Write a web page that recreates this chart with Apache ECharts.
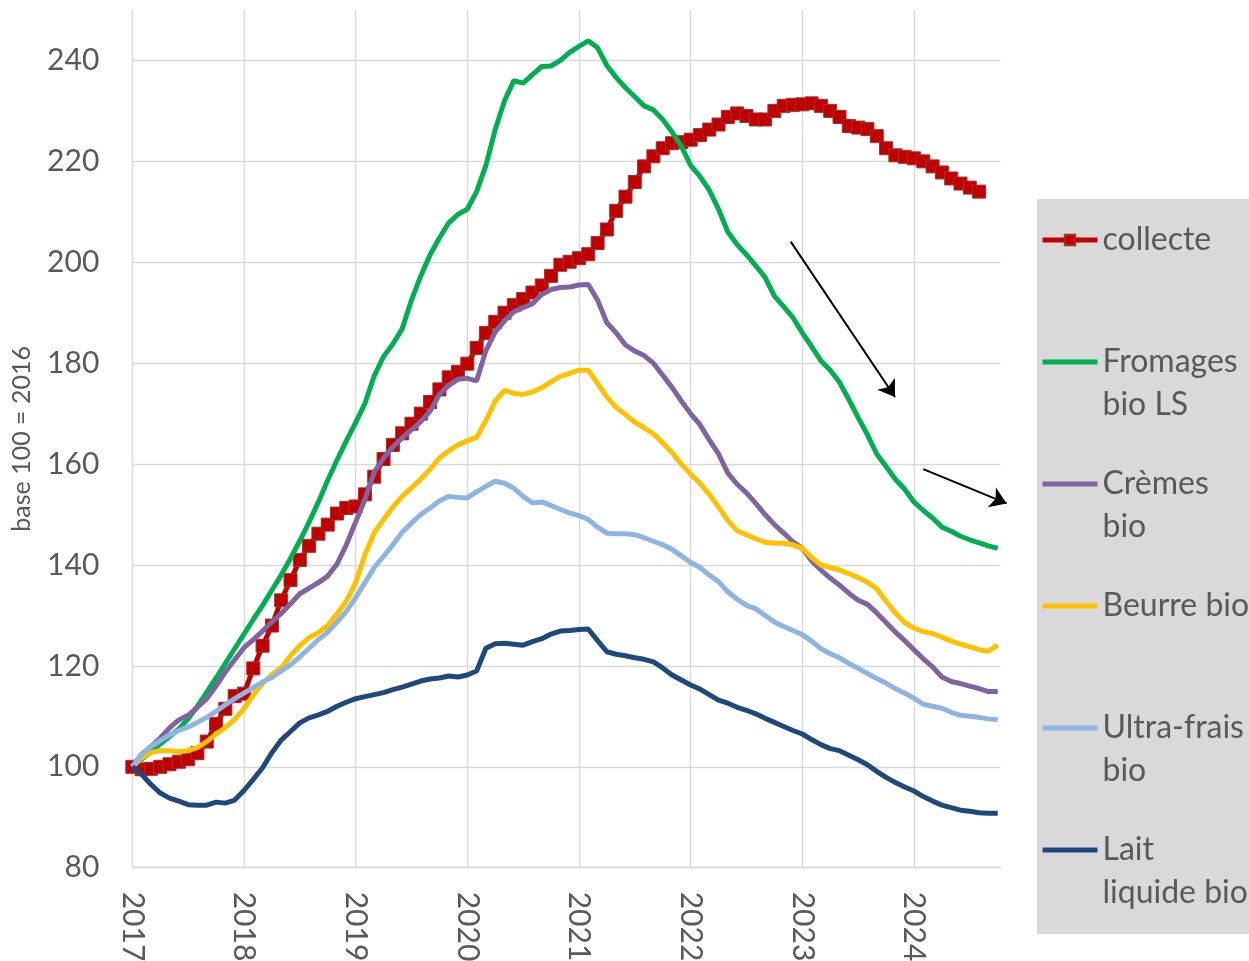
<!DOCTYPE html>
<html><head><meta charset="utf-8">
<script src="https://cdn.jsdelivr.net/npm/echarts@6/dist/echarts.min.js"></script>
<style>html,body{margin:0;padding:0;background:#fff}#c{width:1249px;height:961px}</style>
</head><body><div id="c"></div>
<script>
// monthly values, first point = January 2017
const startYear = 2017;
const yearTicks = [2017, 2018, 2019, 2020, 2021, 2022, 2023, 2024];
const yTicks = [80, 100, 120, 140, 160, 180, 200, 220, 240];

const collecte = [100, 99.5, 99.6, 100.0, 100.5, 101, 101.5, 102.7, 105, 108.5,
  111.5, 114, 114.5, 119.5, 124, 128, 133, 137, 141, 143.8,
  146.2, 148, 150.2, 151.3, 151.6, 154, 157.5, 161, 163.8, 166.1,
  168, 170, 172.3, 174.8, 177.2, 178.3, 179.9, 183, 186, 188.2,
  190, 191.5, 192.7, 194, 195.4, 197.3, 199.5, 200.1, 200.8, 201.6,
  203.8, 206.5, 210.2, 213, 215.9, 219, 221, 222.6, 223.6, 223.8,
  224.3, 225.2, 226.3, 227.3, 228.8, 229.5, 229, 228.3, 228.3, 230,
  231, 231.2, 231.3, 231.5, 231, 230, 228.8, 227, 226.7, 226.4,
  225, 222.6, 221.2, 220.9, 220.6, 220, 219, 217.8, 216.6, 215.6,
  214.8, 214];

const fromages = [100, 101.5, 103, 104.5, 106, 107.5, 109.5, 112, 114.8, 117.6,
  120.5, 123.4, 126.3, 129.2, 132, 135, 138, 141.3, 144.8, 148.5,
  152.5, 156.8, 160.8, 164.6, 168.2, 172, 177.5, 181.3, 183.8, 186.8,
  192.5, 197.3, 201.5, 204.8, 207.8, 209.5, 210.5, 214, 219.2, 226.3,
  232, 236, 235.5, 237.2, 238.8, 238.9, 240, 241.6, 242.8, 243.9,
  242.5, 239, 236.6, 234.6, 232.8, 231, 230.2, 228.3, 225.8, 223,
  219.2, 217, 214.3, 210.5, 206, 203.5, 201.5, 199.3, 197, 193.3,
  191.2, 189, 186, 183.3, 180.5, 178.6, 176.2, 172.8, 169.2, 165.8,
  162, 159.5, 157, 155, 152.5, 150.8, 149.3, 147.5, 146.7, 145.7,
  145, 144.4, 143.8, 143.3];

const cremes = [100, 102.5, 104, 105.7, 107.7, 109.3, 110.2, 111.8, 113.5, 116,
  118.8, 121.2, 123.6, 125.2, 126.9, 128.7, 130.4, 132.3, 134.3, 135.4,
  136.5, 137.8, 140.2, 144, 148.5, 153, 158.4, 161.2, 163.4, 165.2,
  166.8, 168.4, 170.5, 173.8, 175.6, 176.8, 177, 176.5, 182.5, 186.2,
  188.4, 190.2, 191, 191.8, 193.6, 194.6, 195, 195.1, 195.5, 195.6,
  192.5, 188, 186, 183.6, 182.4, 181.5, 180, 177.6, 175.2, 172.5,
  170, 167.8, 164.8, 162, 158.2, 156, 154.3, 152.2, 150, 148,
  146.3, 144.6, 143.3, 140.8, 139, 137.4, 136, 134.4, 133, 132.2,
  130.5, 128.6, 126.7, 125, 123.2, 121.4, 119.8, 117.8, 116.9, 116.5,
  116, 115.5, 114.9, 114.9];

const beurre = [100, 101.8, 102.8, 103.2, 103.2, 103, 103.2, 103.8, 105, 106.5,
  107.8, 109.4, 111.5, 114.2, 116.5, 118.3, 119.6, 122, 124, 125.6,
  126.6, 128, 130.3, 132.8, 136.5, 142, 146.4, 149, 151.5, 153.6,
  155.3, 157, 159, 161.2, 162.6, 163.8, 164.6, 165.3, 168.6, 172.5,
  174.6, 174, 173.8, 174.3, 175.1, 176.3, 177.4, 178, 178.6, 178.6,
  176, 173.3, 171.2, 169.8, 168.3, 167.2, 166, 164.2, 162.3, 160,
  158, 156.2, 154, 151.5, 148.8, 146.8, 146, 145.2, 144.5, 144.3,
  144.3, 144, 143.3, 141.5, 140, 139.5, 139, 138.3, 137.5, 136.6,
  135.3, 132.8, 130.5, 128.6, 127.5, 126.8, 126.4, 125.7, 124.9, 124.3,
  123.8, 123.2, 122.9, 124.1];

const ultraFrais = [100, 102.5, 104, 105.2, 106.3, 107.2, 107.9, 108.8, 109.8, 111,
  112.3, 113.5, 114.6, 115.7, 116.8, 117.7, 119, 120.2, 121.8, 123.5,
  125.2, 126.7, 128.7, 130.8, 133.5, 136.5, 139.5, 141.7, 144, 146.5,
  148.3, 150, 151.3, 152.7, 153.6, 153.4, 153.3, 154.5, 155.6, 156.6,
  156.2, 155.2, 153.6, 152.3, 152.5, 151.8, 151, 150.3, 149.8, 149,
  147.5, 146.3, 146.2, 146.2, 146, 145.4, 144.7, 144, 143.1, 141.8,
  140.5, 139.5, 138, 136.7, 134.7, 133.2, 132, 131.3, 130, 128.7,
  127.8, 127, 126.2, 124.9, 123.4, 122.4, 121.6, 120.5, 119.5, 118.5,
  117.5, 116.6, 115.5, 114.6, 113.6, 112.4, 112, 111.6, 110.8, 110.2,
  110, 109.8, 109.5, 109.3];

const laitLiquide = [100, 98.5, 96.5, 94.8, 93.8, 93.2, 92.5, 92.4, 92.4, 93,
  92.8, 93.4, 95.3, 97.5, 99.8, 102.8, 105.3, 107, 108.7, 109.7,
  110.3, 111, 112, 112.8, 113.5, 113.9, 114.3, 114.7, 115.3, 115.8,
  116.4, 117, 117.4, 117.6, 118, 117.8, 118.2, 119, 123.5, 124.4,
  124.5, 124.3, 124.1, 124.8, 125.4, 126.3, 126.9, 127, 127.2, 127.3,
  125, 122.8, 122.3, 122, 121.6, 121.3, 120.8, 119.6, 118.2, 117.2,
  116.2, 115.4, 114.3, 113.2, 112.6, 111.8, 111.2, 110.5, 109.6, 108.8,
  108, 107.2, 106.5, 105.4, 104.4, 103.6, 103.2, 102.3, 101.4, 100.4,
  99.1, 97.9, 96.9, 96, 95.2, 94.1, 93.2, 92.4, 91.9, 91.4,
  91.2, 90.9, 90.8, 90.8];

const seriesNames = ['collecte', 'Fromages bio LS', 'Crèmes bio', 'Beurre bio', 'Ultra-frais bio', 'Lait liquide bio'];
const legendLines = {
  'collecte': ['collecte'],
  'Fromages bio LS': ['Fromages', 'bio LS'],
  'Crèmes bio': ['Crèmes', 'bio'],
  'Beurre bio': ['Beurre bio'],
  'Ultra-frais bio': ['Ultra-frais', 'bio'],
  'Lait liquide bio': ['Lait', 'liquide bio']
};
const colors = ['#C00000', '#00B050', '#8064A2', '#FFC000', '#8EB4E3', '#1F497D'];
const allValues = [collecte, fromages, cremes, beurre, ultraFrais, laitLiquide];

// annotation arrows (year, index value)
const arrows = [
  [[2022.896, 204.1], [2023.83, 173.3]],
  [[2024.083, 159.0], [2024.83, 152.2]]
];

const FONT = 'Lato, "Open Sans", sans-serif';
const TXT = '#595959';
const GRID = '#D9D9D9';

function toPairs(arr) { return arr.map((v, i) => [startYear + i / 12, v]); }

const series = seriesNames.map((name, k) => {
  const s = {
    name: name, type: 'line', data: toPairs(allValues[k]),
    lineStyle: { color: colors[k], width: 5 },
    itemStyle: { color: colors[k] },
    symbol: 'none', z: 2 + k * 0.01
  };
  if (k === 0) {
    s.symbol = 'rect';
    s.symbolSize = 13;
    s.itemStyle = { color: colors[k], borderColor: '#A33030', borderWidth: 1 };
    s.lineStyle.width = 5;
  }
  return s;
});
series.push({
  type: 'lines', coordinateSystem: 'cartesian2d', clip: false, silent: true,
  symbol: ['none', 'arrow'], symbolSize: 16,
  lineStyle: { color: '#000', width: 2, opacity: 1 },
  data: arrows.map(a => ({ coords: a })), z: 5
});

const chart = echarts.init(document.getElementById('c'), null, { renderer: 'canvas' });
chart.setOption({
  animation: false,
  backgroundColor: '#fff',
  grid: { left: 132.3, right: 248.7, top: 10, bottom: 93.3, containLabel: false, outerBoundsMode: 'none' },
  xAxis: {
    type: 'value', min: yearTicks[0], max: 2024.773, interval: 1,
    axisLine: { show: true, lineStyle: { color: GRID, width: 1.4 } },
    axisTick: { show: false },
    splitLine: { show: true, showMaxLine: false, lineStyle: { color: GRID, width: 1.4 } },
    axisLabel: { rotate: -90, margin: 24, color: TXT, fontFamily: FONT, fontSize: 30,
      showMaxLabel: false, formatter: v => String(Math.round(v)) }
  },
  yAxis: {
    type: 'value', min: yTicks[0], max: 250, interval: 20,
    name: 'base 100 = 2016', nameLocation: 'middle', nameGap: 98, nameRotate: 90,
    nameTextStyle: { color: TXT, fontFamily: FONT, fontSize: 25 },
    axisLine: { show: false }, axisTick: { show: false },
    splitLine: { show: true, showMaxLine: false, lineStyle: { color: GRID, width: 1.4 } },
    axisLabel: { margin: 33, color: TXT, fontFamily: FONT, fontSize: 30, showMaxLabel: false }
  },
  legend: {
    data: seriesNames.map((n, k) => k === 0 ? { name: n } : { name: n, itemStyle: { opacity: 0 } }),
    orient: 'vertical', left: 1040, top: 175.5, padding: 0,
    itemWidth: 55, itemHeight: 13, itemGap: -7,
    lineStyle: { width: 5 },
    formatter: name => '\n' + legendLines[name].join('\n') + (legendLines[name].length === 1 ? '\n' : ''),
    textStyle: { color: TXT, fontFamily: FONT, fontSize: 32, lineHeight: 43 },
    selectedMode: false
  },
  graphic: [{
    type: 'rect', left: 1037, top: 199, z: -10, silent: true,
    shape: { width: 212, height: 735 }, style: { fill: '#D9D9D9' }
  }],
  series: series
});
</script></body></html>
